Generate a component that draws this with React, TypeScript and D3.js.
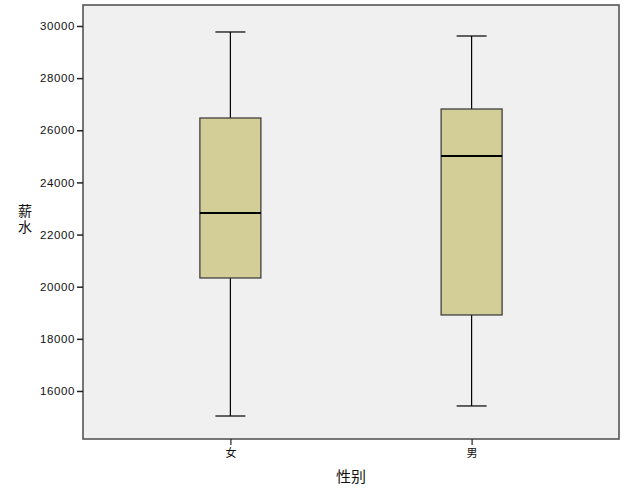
import React, { useEffect, useRef } from "react";
import * as d3 from "d3";

const categories = ["女", "男"];
const whiskerLow = [15040, 15425];
const q1 = [20334, 18915];
const median = [22827, 25013];
const q3 = [26471, 26816];
const whiskerHigh = [29770, 29616];
const yTicks = [16000, 18000, 20000, 22000, 24000, 26000, 28000, 30000];
const xTitle = "性别";
const yTitle = "薪水";

const W = 626, H = 501;
const left = 83, right = 619, top = 5, bottom = 439;

export default function App() {
  const ref = useRef<SVGSVGElement>(null);
  useEffect(() => {
    const svg = d3.select(ref.current);
    svg.selectAll("*").remove();
    const y = d3.scaleLinear().domain([14158, 30805]).range([bottom, top]);
    const x = d3.scalePoint<string>().domain(categories).range([left, right]).padding(0.611);
    const boxW = 61, capW = 30;
    const font = "'Liberation Sans', Arial, sans-serif";

    svg.append("rect").attr("x", left).attr("y", top).attr("width", right - left).attr("height", bottom - top)
      .attr("fill", "#f0f0f0");

    categories.forEach((c, i) => {
      const cx = x(c)!;
      const g = svg.append("g");
      g.append("line").attr("x1", cx).attr("x2", cx).attr("y1", y(whiskerHigh[i])).attr("y2", y(q3[i]))
        .attr("stroke", "#000").attr("stroke-width", 1.2);
      g.append("line").attr("x1", cx).attr("x2", cx).attr("y1", y(q1[i])).attr("y2", y(whiskerLow[i]))
        .attr("stroke", "#000").attr("stroke-width", 1.2);
      [whiskerHigh[i], whiskerLow[i]].forEach(v => {
        g.append("line").attr("x1", cx - capW / 2).attr("x2", cx + capW / 2).attr("y1", y(v)).attr("y2", y(v))
          .attr("stroke", "#000").attr("stroke-width", 1.2);
      });
      g.append("rect").attr("x", cx - boxW / 2).attr("y", y(q3[i])).attr("width", boxW).attr("height", y(q1[i]) - y(q3[i]))
        .attr("fill", "#d3ce97").attr("stroke", "#333").attr("stroke-width", 1.2);
      g.append("line").attr("x1", cx - boxW / 2).attr("x2", cx + boxW / 2).attr("y1", y(median[i])).attr("y2", y(median[i]))
        .attr("stroke", "#000").attr("stroke-width", 2.2);
    });

    svg.append("rect").attr("x", left).attr("y", top).attr("width", right - left).attr("height", bottom - top)
      .attr("fill", "none").attr("stroke", "#555").attr("stroke-width", 1.6);

    const ya = svg.append("g").attr("transform", `translate(${left},0)`)
      .call(d3.axisLeft(y).tickValues(yTicks).tickFormat(d3.format("d")).tickSize(6).tickSizeOuter(0).tickPadding(2));
    ya.select(".domain").remove();
    ya.selectAll("line").attr("stroke", "#222").attr("stroke-width", 1.5);
    ya.selectAll("text").attr("font-family", font).attr("font-size", 11.5).attr("fill", "#111")
      .attr("letter-spacing", 0.6);

    const xa = svg.append("g").attr("transform", `translate(0,${bottom})`)
      .call(d3.axisBottom(x).tickSize(6).tickSizeOuter(0).tickPadding(4));
    xa.select(".domain").remove();
    xa.selectAll("line").attr("stroke", "#222").attr("stroke-width", 1.2);
    xa.selectAll("text").attr("font-family", "'Noto Sans CJK SC', sans-serif").attr("font-size", 11).attr("fill", "#111");

    svg.append("text").attr("x", (left + right) / 2).attr("y", 482).attr("text-anchor", "middle")
      .attr("font-family", "'Noto Sans CJK SC', sans-serif").attr("font-size", 15).attr("fill", "#111").text(xTitle);

    svg.append("text").attr("x", 25).attr("y", 204).attr("text-anchor", "start")
      .style("writing-mode", "vertical-rl").attr("letter-spacing", 2)
      .attr("font-family", "'Noto Sans CJK SC', sans-serif").attr("font-size", 14).attr("fill", "#111").text(yTitle);
  }, []);
  return <svg ref={ref} width={W} height={H} style={{ position: "absolute", left: 0, top: 0, background: "#fff" }} />;
}
